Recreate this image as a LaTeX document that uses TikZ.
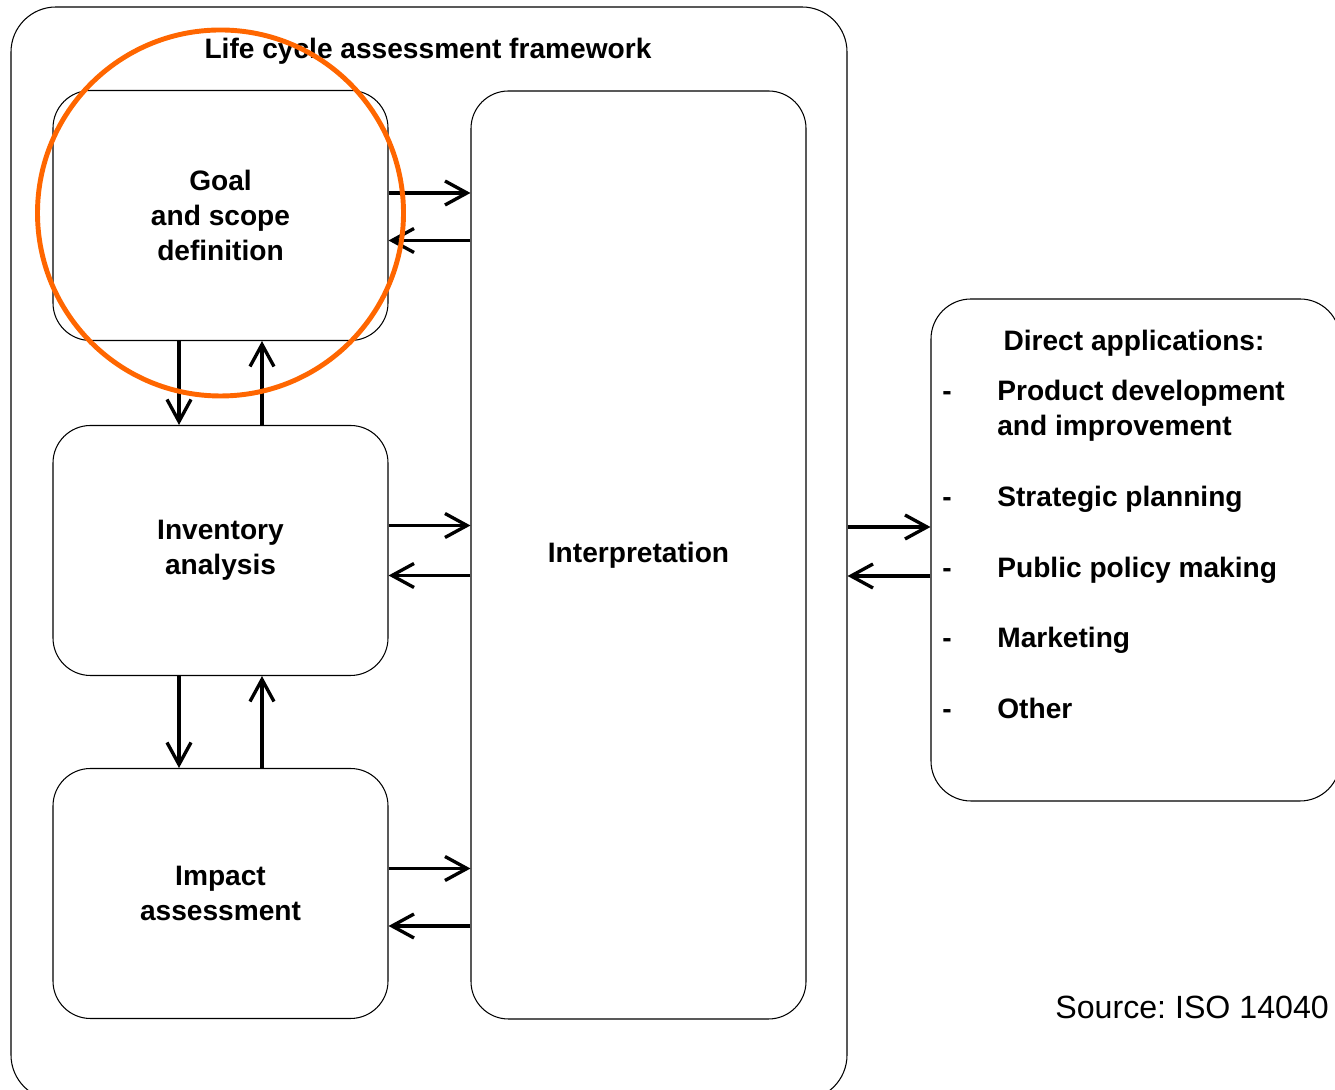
\documentclass[tikz,border=0pt]{standalone}
\usepackage{fontspec}
\setmainfont{Liberation Sans}
\usetikzlibrary{arrows.meta}
\definecolor{marker}{RGB}{255,102,0}
\frenchspacing

\begin{document}
\begin{tikzpicture}[
        box/.style={draw,line width=0.6pt,rounded corners=0.75cm,align=center,inner sep=0pt,
                    font=\fontsize{16}{20}\selectfont\bfseries},
        stage/.style={box,minimum width=6.7cm,minimum height=5cm},
        arr/.style={line width=1.9pt,-{Straight Barb[length=4.4mm,width=4.8mm]}},
        item/.style={anchor=base west,inner sep=0pt,font=\fontsize{16}{20}\selectfont\bfseries}
    ]
        \useasboundingbox (0,0) rectangle (26.7,21.8);
        \node[box,minimum width=16.72cm,minimum height=21.86cm,rounded corners=0.9cm] (frame) at (8.58,10.73) {};
        \node[item,anchor=center] (title) at (8.56,20.78) {Life cycle assessment framework};

        \node[stage] (goal)      at (4.41,17.49) {Goal\\and scope\\definition};
        \node[stage] (inventory) at (4.41,10.79) {Inventory\\analysis};
        \node[stage] (impact)    at (4.41,3.93)  {Impact\\assessment};
        \node[box,minimum width=6.7cm,minimum height=18.56cm] (interp) at (12.77,10.7) {Interpretation};

        \coordinate (g1) at ([yshift=4.5mm]goal.east);
        \coordinate (g2) at ([yshift=-5mm]goal.east);
        \coordinate (v1) at ([yshift=5mm]inventory.east);
        \coordinate (v2) at ([yshift=-5mm]inventory.east);
        \coordinate (p1) at ([yshift=5mm]impact.east);
        \coordinate (p2) at ([yshift=-6.5mm]impact.east);
        \draw[arr] (g1) -- (g1 -| interp.west);
        \draw[arr] (g2 -| interp.west) -- (g2);
        \draw[arr] (v1) -- (v1 -| interp.west);
        \draw[arr] (v2 -| interp.west) -- (v2);
        \draw[arr] (p1) -- (p1 -| interp.west);
        \draw[arr] (p2 -| interp.west) -- (p2);

        \coordinate (s1) at ([xshift=-8.3mm]goal.south);
        \coordinate (s2) at ([xshift=8.3mm]inventory.north);
        \coordinate (s3) at ([xshift=-8.3mm]inventory.south);
        \coordinate (s4) at ([xshift=8.3mm]impact.north);
        \draw[arr] (s1) -- (s1 |- inventory.north);
        \draw[arr] (s2) -- (s2 |- goal.south);
        \draw[arr] (s3) -- (s3 |- impact.north);
        \draw[arr] (s4) -- (s4 |- inventory.south);

        \node[box,minimum width=8.18cm,minimum height=10.04cm,rounded corners=0.8cm] (apps) at (22.71,10.8) {};
        \coordinate (a1) at ([yshift=4.6mm]apps.west);
        \coordinate (a2) at ([yshift=-5.2mm]apps.west);
        \draw[arr] (a1 -| frame.east) -- (a1);
        \draw[arr] (a2) -- (a2 -| frame.east);

        \node[item,anchor=base] (heading) at (22.68,14.78) {Direct applications:};
        \node[item] (d1)  at (18.84,13.78) {-};
        \node[item] (i1)  at (19.94,13.78) {Product development};
        \node[item] (i1b) at (19.94,13.08) {and improvement};
        \node[item] (d2)  at (18.84,11.66) {-};
        \node[item] (i2)  at (19.94,11.66) {Strategic planning};
        \node[item] (d3)  at (18.84,10.24) {-};
        \node[item] (i3)  at (19.94,10.24) {Public policy making};
        \node[item] (d4)  at (18.84,8.84)  {-};
        \node[item] (i4)  at (19.94,8.84)  {Marketing};
        \node[item] (d5)  at (18.84,7.42)  {-};
        \node[item] (i5)  at (19.94,7.42)  {Other};

        \node[anchor=west,inner sep=0pt,font=\fontsize{18.3}{22}\selectfont] (source) at (21.1,1.66) {Source: ISO 14040};

        \draw[marker,line width=2.8pt] ([yshift=0.5mm]goal.center) circle (3.66cm);
    \end{tikzpicture}
\end{document}
